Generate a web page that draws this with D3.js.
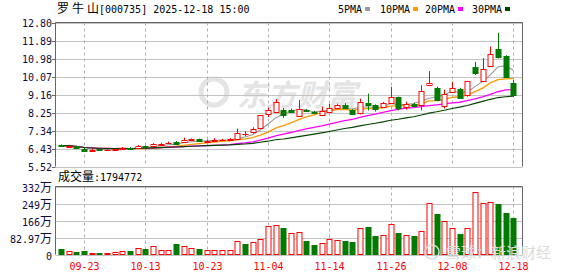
<!DOCTYPE html>
<html>
<head>
<meta charset="utf-8">
<script src="https://cdn.jsdelivr.net/npm/d3@7"></script>
<style>
  body { margin: 0; background: #fff; }
  svg { display: block; }
</style>
</head>
<body>
<svg></svg>
<script>
// 罗牛山 000735 日K, 2025-09-18 ~ 2025-12-18
const dates = ["09-18","09-19","09-22","09-23","09-24","09-25","09-26","09-29","09-30","10-09",
  "10-10","10-13","10-14","10-15","10-16","10-17","10-20","10-21","10-22","10-23",
  "10-24","10-27","10-28","10-29","10-30","10-31","11-03","11-04","11-05","11-06",
  "11-07","11-10","11-11","11-12","11-13","11-14","11-17","11-18","11-19","11-20",
  "11-21","11-24","11-25","11-26","11-27","11-28","12-01","12-02","12-03","12-04",
  "12-05","12-08","12-09","12-10","12-11","12-12","12-15","12-16","12-17","12-18"];
const openP = [6.60,6.55,6.55,6.43,6.30,6.38,6.35,6.36,6.40,6.47,
  6.44,6.55,6.56,6.64,6.70,6.78,6.74,6.86,6.90,6.80,
  6.82,6.86,6.86,6.90,7.17,7.27,7.45,8.15,8.30,8.37,
  8.40,8.11,8.37,8.28,8.12,8.30,8.47,8.63,8.40,8.20,
  8.71,8.62,8.53,8.76,9.01,8.57,8.70,8.67,9.63,9.48,
  8.60,9.29,9.45,9.12,10.55,9.88,10.60,11.45,11.10,9.72];
const highP = [6.64,6.62,6.57,6.45,6.40,6.41,6.40,6.42,6.50,6.50,
  6.60,6.58,6.70,6.72,6.78,6.80,6.98,6.94,6.93,6.88,
  6.95,6.92,6.95,7.44,7.30,7.50,8.12,8.50,8.92,8.48,
  8.45,8.88,8.42,8.33,8.55,8.69,8.70,8.72,8.42,8.95,
  9.20,8.66,8.78,9.55,9.05,8.80,8.74,9.63,10.34,9.55,
  9.40,9.80,9.50,9.85,10.81,11.00,11.58,12.28,11.15,9.90];
const lowP = [6.53,6.52,6.42,6.28,6.26,6.32,6.33,6.34,6.38,6.38,
  6.42,6.45,6.54,6.60,6.66,6.68,6.72,6.82,6.76,6.76,
  6.80,6.82,6.84,6.88,7.05,7.18,7.42,8.02,8.22,7.98,
  8.22,8.05,8.28,8.18,8.08,8.25,8.42,8.45,8.15,8.15,
  8.35,8.30,8.48,8.70,8.35,8.40,8.55,8.36,9.60,8.82,
  8.45,9.25,8.95,9.05,10.15,9.85,10.55,10.98,10.00,9.05];
const closeP = [6.57,6.58,6.45,6.33,6.36,6.35,6.37,6.40,6.45,6.42,
  6.56,6.50,6.66,6.67,6.72,6.70,6.85,6.90,6.80,6.83,
  6.86,6.88,6.92,7.20,7.18,7.42,8.12,8.37,8.80,8.11,
  8.28,8.45,8.32,8.24,8.32,8.49,8.64,8.50,8.20,8.76,
  8.59,8.42,8.73,9.04,8.45,8.70,8.60,9.36,9.72,8.87,
  9.21,9.51,9.01,9.82,10.25,10.47,11.23,11.04,10.05,9.12];
const prevClose = 6.62;
// 成交量 (万手)
const volume = [26,16,11,16,6,6,6,11,19,19,
  34,26,43,21,24,50,43,34,26,21,
  21,24,21,64,50,59,78,140,145,131,
  104,109,67,47,56,75,71,67,63,127,
  133,90,95,148,106,95,90,114,253,197,
  162,128,101,128,306,253,258,245,202,179.4772];
const priceTicks = [5.52,6.43,7.34,8.25,9.16,10.07,10.98,11.89,12.80];
const volTicks = [0,82.97,166,249,332];
const volTickLabels = ["0","82.97万","166万","249万","332万"];
const gridDates = ["09-23","10-13","10-23","11-04","11-14","11-26","12-08","12-18"];
const maDays = [5,10,20,30];
const maNames = ["5PMA","10PMA","20PMA","30PMA"];
const maColors = ["#999999","#ff9900","#ff00ff","#004400"];

const W = 578, H = 276;
const L = 55.5, R = 522.5;
const MONO = "'DejaVu Sans Mono', monospace";
const CJK = "'Noto Sans CJK SC', sans-serif";
const RED = "#ff0000", GREEN = "#007a00";

const svg = d3.select("svg").attr("width", W).attr("height", H);

const x = d3.scaleLinear().domain([-0.7, 60.2]).range([L, R]);
const y = d3.scaleLinear().domain([5.52, 12.80]).range([166.5, 22.5]);
const vy = d3.scaleLinear().domain([0, 332]).range([254.5, 186.5]);
const px = i => Math.round(x(i)) + 0.5;

// 水印
const wm = svg.append("g").attr("fill", "#e4e4e4");
wm.append("circle").attr("cx", 214).attr("cy", 92).attr("r", 13)
  .attr("fill", "none").attr("stroke", "#e4e4e4").attr("stroke-width", 5);
wm.append("text").attr("x", 237).attr("y", 106).attr("font-family", CJK)
  .attr("font-size", 30).attr("font-weight", "bold").attr("font-style", "italic")
  .text("东方财富");

// 网格
function hGrid(scale, ticks, x1, x2) {
  svg.append("g").selectAll("line").data(ticks).join("line")
    .attr("x1", x1).attr("x2", x2)
    .attr("y1", d => Math.round(scale(d)) + 0.5).attr("y2", d => Math.round(scale(d)) + 0.5)
    .attr("stroke", "#c4c4c4");
}
hGrid(y, priceTicks, L, R);
hGrid(vy, volTicks, L, R);

const gridIdx = gridDates.map(d => dates.indexOf(d));
[[22.5, 166.5], [186.5, 254.5]].forEach(([a, b]) => {
  svg.append("g").selectAll("line").data(gridIdx).join("line")
    .attr("x1", px).attr("x2", px).attr("y1", a).attr("y2", b)
    .attr("stroke", "#b0b0b0").attr("stroke-dasharray", "3,3");
});

// 边框
[[22.5, 166.5], [186.5, 254.5]].forEach(([a, b]) => {
  svg.append("path")
    .attr("d", `M${L},${b}V${a}H${R}V${b}`)
    .attr("fill", "none").attr("stroke", "#666");
});

// 坐标轴文字
svg.append("g").selectAll("text").data(priceTicks).join("text")
  .attr("x", 52).attr("y", d => y(d) + 4)
  .attr("text-anchor", "end").attr("font-family", MONO).attr("font-size", 10)
  .attr("fill", "#0c0c3c")
  .text(d => d.toFixed(2));
svg.append("g").selectAll("line").data(priceTicks).join("line")
  .attr("x1", 52).attr("x2", L)
  .attr("y1", d => Math.round(y(d)) + 0.5).attr("y2", d => Math.round(y(d)) + 0.5)
  .attr("stroke", "#666");

const vl = svg.append("g").selectAll("text").data(volTicks).join("text")
  .attr("x", 52).attr("y", d => vy(d) + 5)
  .attr("text-anchor", "end").attr("fill", "#0c0c3c");
vl.each(function (d, i) {
  const t = d3.select(this), s = volTickLabels[i];
  const num = s.replace("万", "");
  t.append("tspan").attr("font-family", MONO).attr("font-size", 10).text(num);
  if (s.endsWith("万")) t.append("tspan").attr("font-family", CJK).attr("font-size", 12).text("万");
});

svg.append("g").selectAll("text").data(gridIdx).join("text")
  .attr("x", px).attr("y", 270).attr("text-anchor", "middle")
  .attr("font-family", MONO).attr("font-size", 10).attr("fill", RED)
  .text(i => dates[i]);

// 标题
const title = svg.append("text").attr("y", 13).attr("fill", "#000");
["罗", "牛", "山"].forEach((c, k) => {
  title.append("tspan").attr("x", 57 + k * 15).attr("font-family", CJK).attr("font-size", 12).text(c);
});
title.append("tspan").attr("x", 99).attr("font-family", MONO).attr("font-size", 10).text("[000735] 2025-12-18 15:00");

// 图例
const legX = [338, 380, 425, 472];
maNames.forEach((n, k) => {
  svg.append("text").attr("x", legX[k]).attr("y", 12.5)
    .attr("font-family", MONO).attr("font-size", 10).attr("fill", "#000").text(n);
  svg.append("rect").attr("x", legX[k] + n.length * 6 + 3).attr("y", 7).attr("width", 5).attr("height", 4)
    .attr("fill", maColors[k]);
});

// 成交量标题
const vt = svg.append("text").attr("x", 58).attr("y", 181).attr("fill", "#000");
vt.append("tspan").attr("font-family", CJK).attr("font-size", 12).text("成交量");
vt.append("tspan").attr("font-family", MONO).attr("font-size", 10).text(":" + Math.round(volume[59] * 10000));

// 均线
const idx = d3.range(dates.length);
maDays.forEach((n, k) => {
  const ma = idx.map(i => d3.mean(closeP.slice(Math.max(0, i - n + 1), i + 1)));
  svg.append("path").datum(ma)
    .attr("d", d3.line().x((d, i) => x(i)).y(d => y(d)))
    .attr("fill", "none").attr("stroke", maColors[k]).attr("stroke-width", k === 1 || k === 2 ? 1.3 : 1.1);
});

// K线
const up = i => closeP[i] >= openP[i];
const kg = svg.append("g").selectAll("g").data(idx).join("g");
kg.append("line")
  .attr("x1", px).attr("x2", px)
  .attr("y1", i => y(highP[i])).attr("y2", i => y(lowP[i]))
  .attr("stroke", i => up(i) ? RED : GREEN);
kg.append("rect")
  .attr("x", i => px(i) - 2.5).attr("width", 5)
  .attr("y", i => Math.round(y(Math.max(openP[i], closeP[i]))) + 0.5)
  .attr("height", i => Math.max(0.01, Math.round(Math.abs(y(openP[i]) - y(closeP[i])))))
  .attr("fill", i => up(i) ? "#fff" : GREEN)
  .attr("stroke", i => up(i) ? RED : GREEN);

// 成交量柱
const volUp = i => closeP[i] >= (i === 0 ? prevClose : closeP[i - 1]);
svg.append("g").selectAll("rect").data(idx).join("rect")
  .attr("x", i => px(i) - 2.5).attr("width", 5)
  .attr("y", i => Math.round(vy(volume[i])) + 0.5)
  .attr("height", i => 254.5 - (Math.round(vy(volume[i])) + 0.5))
  .attr("fill", i => volUp(i) ? "#fff" : GREEN)
  .attr("stroke", i => volUp(i) ? RED : GREEN);

// 雪球水印
const wm2 = svg.append("g").attr("fill", "#dcdcdc");
wm2.append("circle").attr("cx", 432).attr("cy", 252).attr("r", 7)
  .attr("fill", "none").attr("stroke", "#dcdcdc").attr("stroke-width", 1.5);
wm2.append("text").attr("x", 446).attr("y", 258).attr("font-family", CJK).attr("font-size", 15)
  .text("雪球：新浪财经");
</script>
</body>
</html>
